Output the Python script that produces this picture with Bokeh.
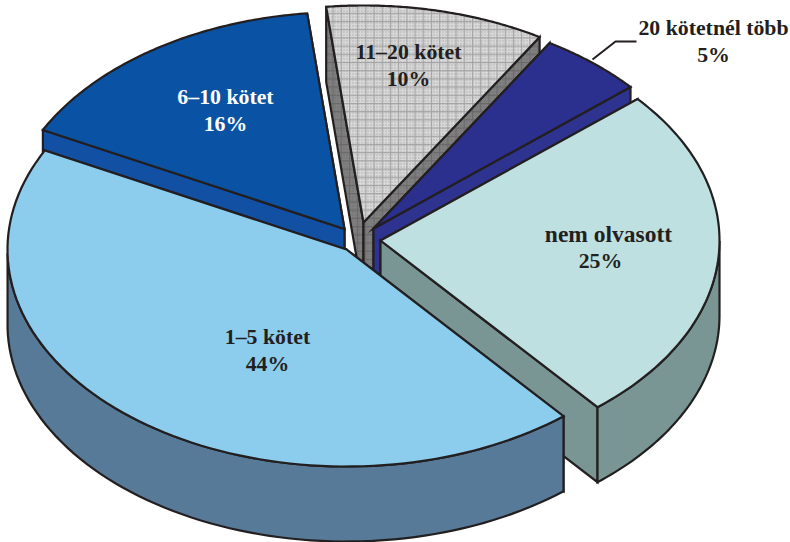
import numpy as np
from bokeh.plotting import figure
from bokeh.models import Range1d
from bokeh.core.properties import value
from bokeh.embed import file_html
from bokeh.resources import INLINE

# data
categories = ["nem olvasott", "1–5 kötet", "6–10 kötet", "11–20 kötet", "20 kötetnél több"]
shares = [25.25, 43.6, 15.7, 10.45, 5.0]
percent_labels = ["25%", "44%", "16%", "10%", "5%"]

# layout / style
START_DEG = 40.7
RX, RY, DEPTH = 339.0, 217.0, 75.0
apex_x = [380, 346, 344, 363, 373]
apex_y = [240, 249, 228.5, 222, 228]
top_colors = ["#BFE0E0", "#8CCDEE", "#0A52A3", "#D8D8D8", "#2B2F8E"]
wall_colors = ["#7A9694", "#567A98", "#1250A3", "#808080", "#2E3390"]
label_x = [608, 267, 225, 408, 713]
percent_x = [600, 267, 225, 408, 713]
label_y = [247, 350, 110, 65, 41]
label_colors = ["#231F20", "#231F20", "#FFFFFF", "#231F20", "#231F20"]
label_sizes = ["23.5px", "21.8px", "21.8px", "21.8px", "21.8px"]
paint_order = [3, 4, 2, 0, 1]
INK = "#231F20"
PATTERNED = 3

p = figure(width=790, height=542, output_backend="svg", toolbar_location=None,
           x_range=Range1d(0, 790), y_range=Range1d(542, 0), min_border=0)
p.axis.visible = False
p.grid.visible = False
p.outline_line_color = None


def pt(cx, cy, t):
    return cx + RX * np.cos(t), cy - RY * np.sin(t)


def face(xs, ys, fill, patterned, dark=False):
    if patterned:
        p.patch(xs, ys, fill_color=fill, line_color=None, hatch_pattern="dot",
                hatch_color="#707070" if dark else "#ABABAB", hatch_scale=3, hatch_weight=1)
        p.patch(xs, ys, fill_color=None, line_color=None, hatch_pattern="cross",
                hatch_color="#686868" if dark else "#A2A2A2", hatch_scale=8.2, hatch_weight=1)
        p.patch(xs, ys, fill_color=None, line_color=INK, line_width=2.2, line_join="miter")
    else:
        p.patch(xs, ys, fill_color=fill, line_color=INK, line_width=2.2, line_join="miter")


edges = np.radians(START_DEG - 3.6 * np.concatenate([[0], np.cumsum(shares)]))

for i in paint_order:
    cx, cy = apex_x[i], apex_y[i]
    t0, t1 = edges[i], edges[i + 1]
    ts = np.linspace(t0, t1, 90)
    ax, ay = pt(cx, cy, ts)
    patterned = i == PATTERNED
    # radial walls, the farther one first
    for t in sorted((t0, t1), key=lambda a: pt(cx, cy, a)[1]):
        ox, oy = pt(cx, cy, t)
        face(np.array([cx, ox, ox, cx]), np.array([cy, oy, oy + DEPTH, cy + DEPTH]),
             wall_colors[i], patterned, True)
    # outer wall (only the part turned towards the viewer)
    front = np.sin(ts) <= 0
    if front.any():
        fx, fy = ax[front], ay[front]
        face(np.r_[fx, fx[::-1]], np.r_[fy, fy[::-1] + DEPTH], wall_colors[i], patterned, True)
    # top face
    face(np.r_[cx, ax], np.r_[cy, ay], top_colors[i], patterned)

# leader of the smallest slice
p.line([592, 615, 636], [59, 41, 41], line_color=INK, line_width=2)

# labels
for i, c in enumerate(categories):
    for txt, x, dy, size in ((c, label_x[i], -13.5, label_sizes[i]),
                             (percent_labels[i], percent_x[i], 13.5, "21.8px")):
        p.text([x], [label_y[i] + dy], text=[txt], text_align="center",
               text_baseline="middle", text_color=label_colors[i],
               text_font=value("Liberation Serif"), text_font_style="bold",
               text_font_size=size)

open("out.html", "w").write(file_html(p, INLINE))
